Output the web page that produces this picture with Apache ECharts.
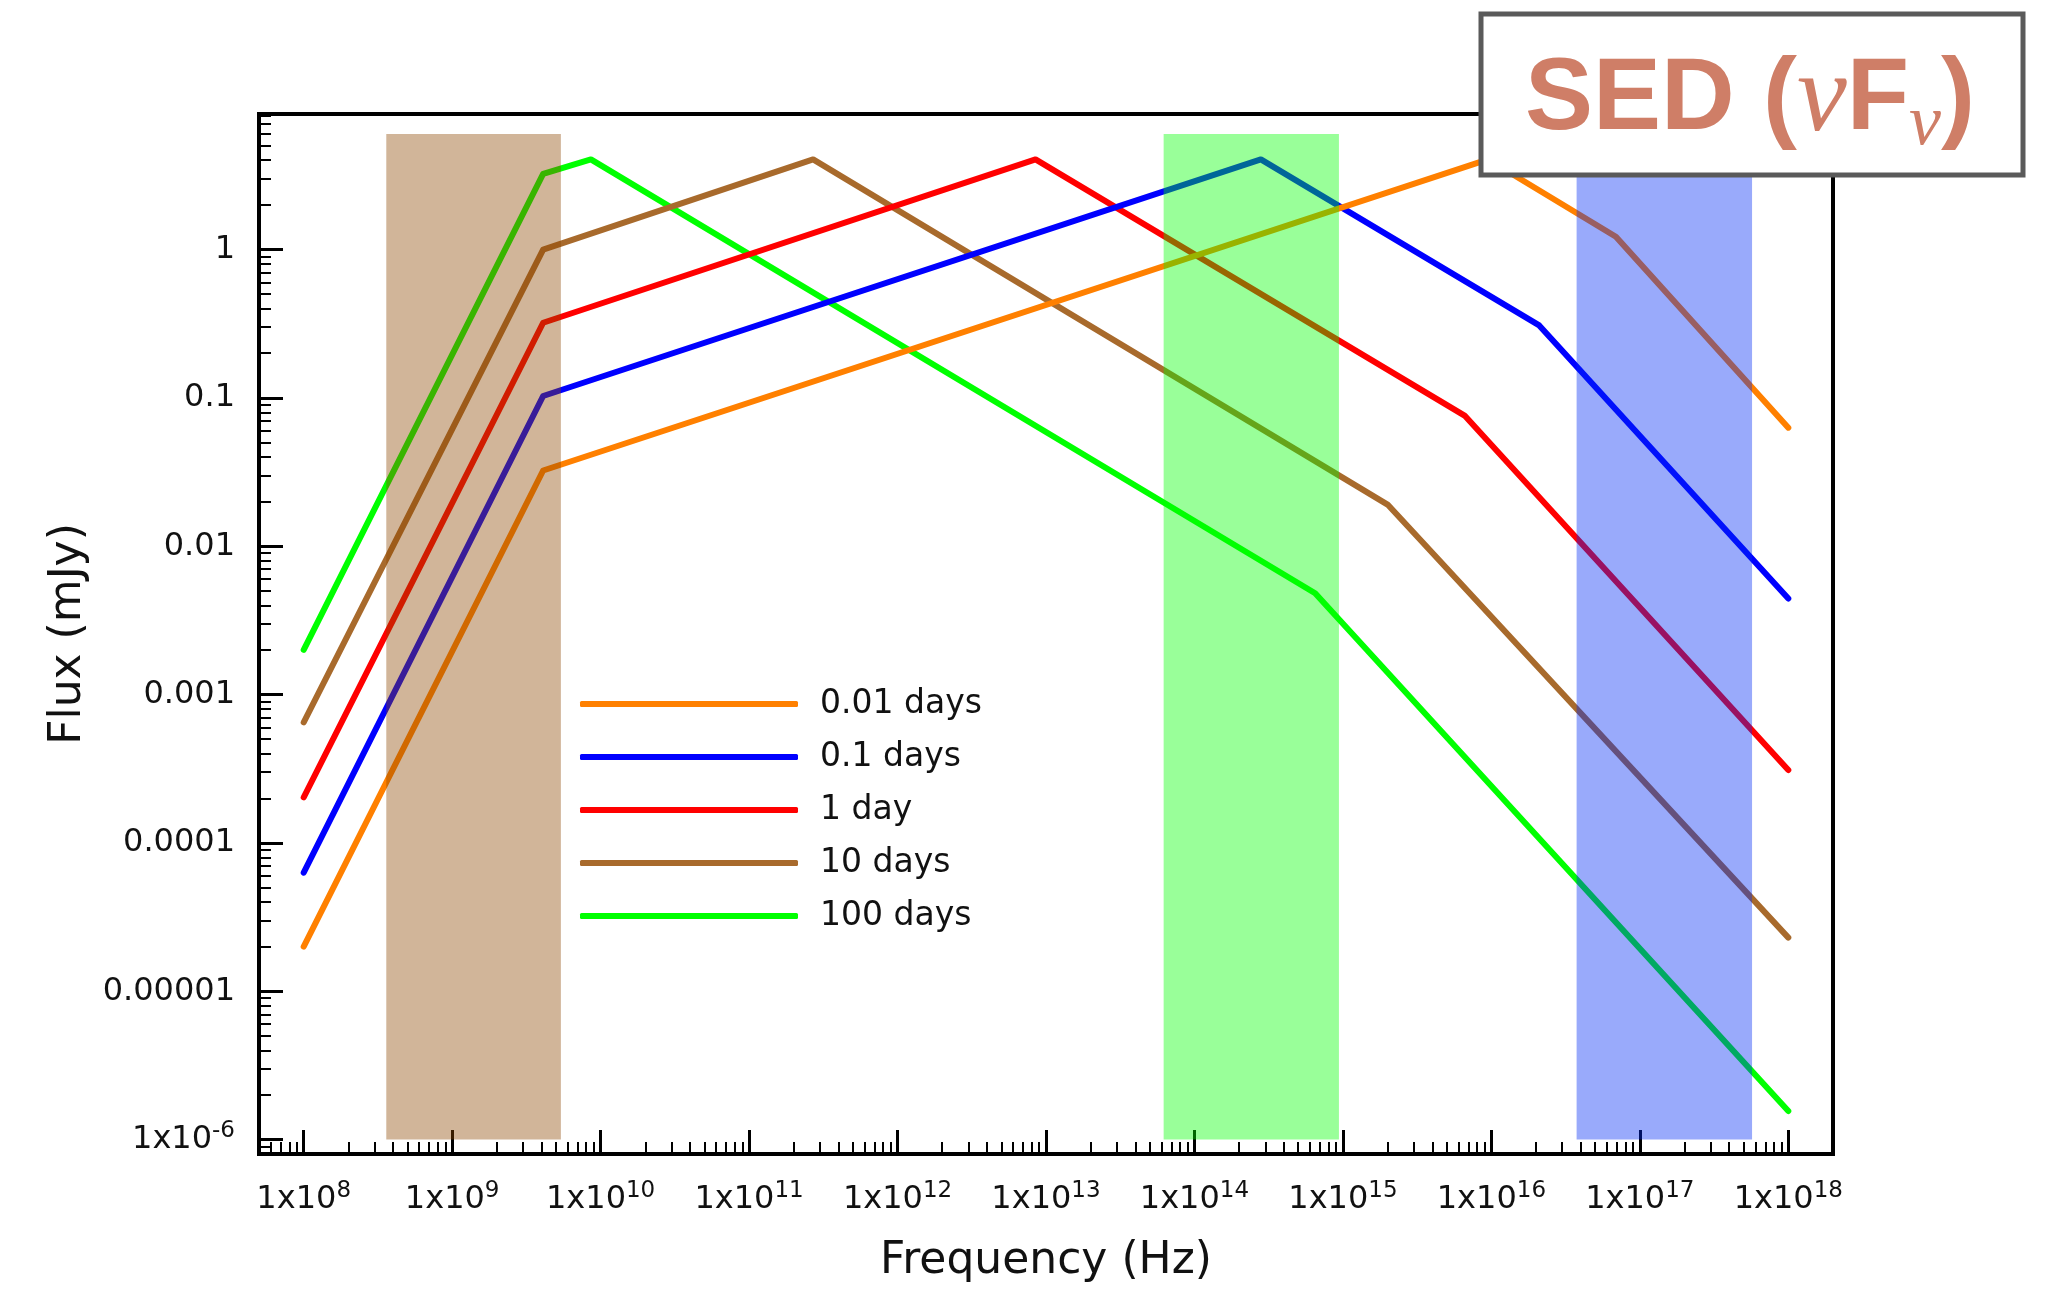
<!DOCTYPE html>
<html>
<head>
<meta charset="utf-8">
<script src="https://cdn.jsdelivr.net/npm/echarts@6/dist/echarts.min.js"></script>
<style>
  html, body { margin: 0; padding: 0; background: #fff; }
  #chart { width: 2049px; height: 1290px; }
</style>
</head>
<body>
<div id="chart"></div>
<script>
// Broken power-law afterglow spectra (nu F_nu) at five epochs.
const seriesNames = ['0.01 days', '0.1 days', '1 day', '10 days', '100 days'];
const seriesColors = ['#FF8000', '#0000FF', '#FF0000', '#A86A2C', '#00FF00'];

// Break frequencies (Hz) and the flux (mJy) at each break, per epoch
const freq_001d = [1e8, 4.1e9, 9.5e15, 6.9e16, 1e18];
const flux_001d = [2.0e-5, 0.0324, 4.05, 1.22, 0.063];
const freq_01d = [1e8, 4.1e9, 2.8e14, 2.1e16, 1e18];
const flux_01d = [6.3e-5, 0.103, 4.05, 0.308, 0.00444];
const freq_1d = [1e8, 4.1e9, 8.5e12, 6.6e15, 1e18];
const flux_1d = [2.03e-4, 0.321, 4.05, 0.076, 3.1e-4];
const freq_10d = [1e8, 4.1e9, 2.7e11, 2.0e15, 1e18];
const flux_10d = [6.5e-4, 1.0, 4.05, 0.0191, 2.3e-5];
const freq_100d = [1e8, 4.1e9, 8.6e9, 6.5e14, 1e18];
const flux_100d = [2.0e-3, 3.24, 4.05, 0.00482, 1.56e-6];

// Observing windows: radio, optical/IR, X-ray
const bandLow = [3.6e8, 6.2e13, 3.75e16];
const bandHigh = [5.4e9, 9.4e14, 5.7e17];
const bandFluxMin = [1e-6, 1e-6, 1e-6];
const bandFluxMax = [6, 6, 6];
const bandColors = ['rgba(139,69,0,0.4)', 'rgba(0,255,0,0.4)', 'rgba(0,42,245,0.4)'];

// Axis ranges and tick labels
const xRange = [5e7, 2e18];
const yRange = [8e-7, 8.2];
const xTickValues = [1e8, 1e9, 1e10, 1e11, 1e12, 1e13, 1e14, 1e15, 1e16, 1e17, 1e18];
const xTickExponents = ['8', '9', '10', '11', '12', '13', '14', '15', '16', '17', '18'];
const yTickValues = [1e-6, 1e-5, 1e-4, 1e-3, 0.01, 0.1, 1];
const yTickLabels = ['1x10^-6', '0.00001', '0.0001', '0.001', '0.01', '0.1', '1'];

// Minor ticks at 2..9 of every decade inside the range
function minorTicks(range) {
  const out = [];
  const d0 = Math.floor(Math.log10(range[0]));
  const d1 = Math.ceil(Math.log10(range[1]));
  for (let d = d0; d <= d1; d++) {
    for (let m = 2; m <= 9; m++) {
      const v = m * Math.pow(10, d);
      if (v > range[0] * 1.0001 && v < range[1] * 0.9999) out.push(v);
    }
  }
  return out;
}

function nearestIndex(arr, v) {
  let best = 0, bd = Infinity;
  arr.forEach((a, i) => {
    const d = Math.abs(Math.log10(a) - Math.log10(v));
    if (d < bd) { bd = d; best = i; }
  });
  return best;
}

const FONT = 'DejaVu Sans';
const TXT = '#111';
const supRich = {
  b: { fontFamily: FONT, fontSize: 32, color: TXT, lineHeight: 40 },
  s: { fontFamily: FONT, fontSize: 23, color: TXT, lineHeight: 24, verticalAlign: 'top' }
};

const lineData = [
  [freq_001d, flux_001d], [freq_01d, flux_01d], [freq_1d, flux_1d],
  [freq_10d, flux_10d], [freq_100d, flux_100d]
];

// Later epochs go underneath, the earliest epoch is painted last
const series = lineData.map((pair, i) => ({
  name: seriesNames[i],
  type: 'line',
  xAxisIndex: 0,
  yAxisIndex: 0,
  z: 2,
  symbol: 'none',
  showSymbol: false,
  silent: true,
  lineStyle: { color: seriesColors[i], width: 6, cap: 'round', join: 'round' },
  itemStyle: { color: seriesColors[i] },
  data: pair[0].map((f, j) => [f, pair[1][j]])
})).reverse();

// Translucent observing windows, laid over the spectra
series.push({
  name: 'bands',
  type: 'line',
  xAxisIndex: 0,
  yAxisIndex: 0,
  z: 5,
  silent: true,
  symbol: 'none',
  data: [],
  markArea: {
    silent: true,
    z: 10,
    label: { show: false },
    data: bandLow.map((lo, i) => [
      { xAxis: lo, yAxis: bandFluxMin[i], itemStyle: { color: bandColors[i], borderWidth: 0 } },
      { xAxis: bandHigh[i], yAxis: bandFluxMax[i] }
    ])
  }
});

const option = {
  animation: false,
  backgroundColor: '#ffffff',
  grid: {
    left: 259, right: 216, top: 114, bottom: 136,
    show: true, borderColor: '#000', borderWidth: 4, backgroundColor: 'transparent',
    outerBoundsMode: 'none', containLabel: false
  },
  legend: {
    data: seriesNames,
    orient: 'vertical',
    left: 575, top: 679,
    icon: 'roundRect',
    itemWidth: 218, itemHeight: 6, itemGap: 13,
    selectedMode: false,
    textStyle: { fontFamily: FONT, fontSize: 33, color: TXT, lineHeight: 40, padding: [0, 0, 0, 17] }
  },
  xAxis: [
    {
      type: 'log', logBase: 10, min: xRange[0], max: xRange[1], position: 'bottom',
      name: 'Frequency (Hz)', nameLocation: 'middle', nameGap: 86,
      nameTextStyle: { fontFamily: FONT, fontSize: 44, color: TXT },
      axisLine: { show: true, lineStyle: { color: '#000', width: 4 } },
      axisTick: { show: true, inside: true, length: 24, lineStyle: { color: '#000', width: 3 }, customValues: xTickValues },
      axisLabel: {
        show: true, margin: 26, customValues: xTickValues,
        formatter: v => '{b|1x10}{s|' + xTickExponents[nearestIndex(xTickValues, v)] + '}',
        rich: supRich
      },
      splitLine: { show: false }, minorTick: { show: false }, minorSplitLine: { show: false }
    },
    {
      type: 'log', logBase: 10, min: xRange[0], max: xRange[1], position: 'bottom',
      axisLine: { show: false },
      axisTick: { show: true, inside: true, length: 12, lineStyle: { color: '#000', width: 2 }, customValues: minorTicks(xRange) },
      axisLabel: { show: false },
      splitLine: { show: false }
    }
  ],
  yAxis: [
    {
      type: 'log', logBase: 10, min: yRange[0], max: yRange[1], position: 'left',
      name: 'Flux (mJy)', nameLocation: 'middle', nameGap: 168,
      nameTextStyle: { fontFamily: FONT, fontSize: 44, color: TXT },
      axisLine: { show: true, lineStyle: { color: '#000', width: 4 } },
      axisTick: { show: true, inside: true, length: 24, lineStyle: { color: '#000', width: 3 }, customValues: yTickValues },
      axisLabel: {
        show: true, margin: 24, customValues: yTickValues,
        formatter: v => {
          const t = yTickLabels[nearestIndex(yTickValues, v)];
          const parts = t.split('^');
          return parts.length > 1 ? '{b|' + parts[0] + '}{s|' + parts[1] + '}' : '{b|' + t + '}';
        },
        rich: supRich
      },
      splitLine: { show: false }, minorTick: { show: false }, minorSplitLine: { show: false }
    },
    {
      type: 'log', logBase: 10, min: yRange[0], max: yRange[1], position: 'left',
      axisLine: { show: false },
      axisTick: { show: true, inside: true, length: 12, lineStyle: { color: '#000', width: 2 }, customValues: minorTicks(yRange) },
      axisLabel: { show: false },
      splitLine: { show: false }
    }
  ],
  series: series,
  graphic: [
    {
      type: 'rect', z: 100,
      shape: { x: 1481, y: 14, width: 542, height: 161 },
      style: { fill: '#ffffff', stroke: '#5a5a5a', lineWidth: 5 }
    },
    {
      type: 'text', z: 101, x: 1525, y: 41,
      style: {
        text: '{a|SED (}{n|ν}{a|F}{m|ν}{a|)}',
        verticalAlign: 'top',
        rich: {
          a: { fontFamily: 'Liberation Sans', fontWeight: 'bold', fontSize: 102, fill: '#CF7E67', lineHeight: 120 },
          n: { fontFamily: 'Liberation Serif', fontStyle: 'italic', fontSize: 112, fill: '#CF7E67', lineHeight: 120 },
          m: { fontFamily: 'Liberation Serif', fontStyle: 'italic', fontSize: 72, fill: '#CF7E67', lineHeight: 80, verticalAlign: 'bottom' }
        }
      }
    }
  ]
};

const chart = echarts.init(document.getElementById('chart'), null, { renderer: 'canvas' });
chart.setOption(option);
</script>
</body>
</html>
